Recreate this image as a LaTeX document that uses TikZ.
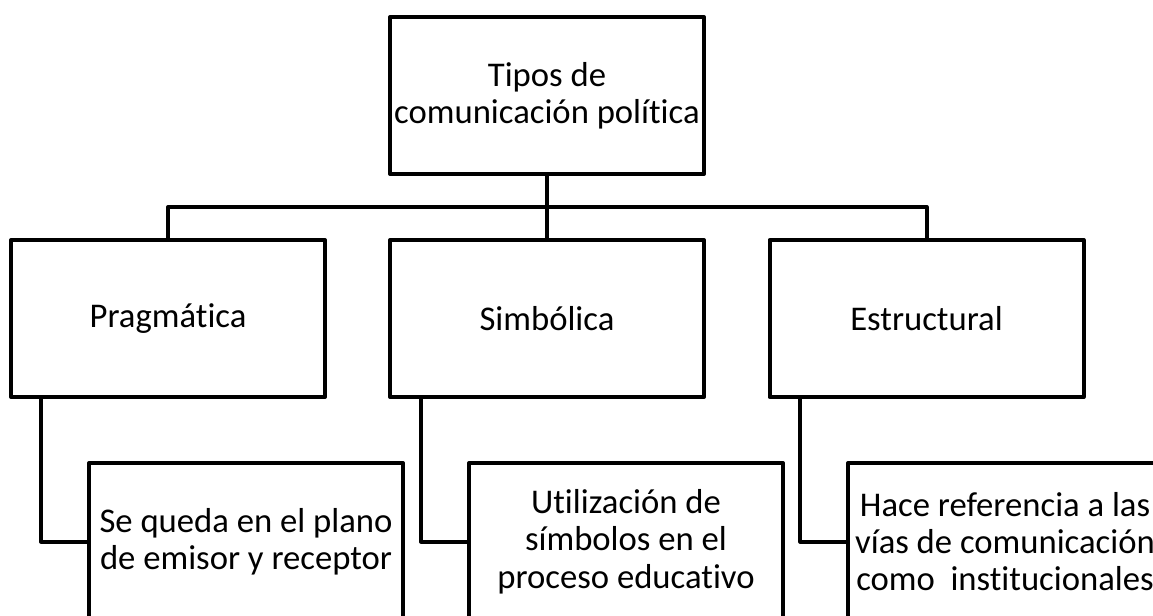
\documentclass[tikz,border=0pt]{standalone}
\usepackage{fontspec}
\setmainfont{Carlito}[Ligatures=NoCommon]
\usepackage{tikz}
\usetikzlibrary{positioning}
\tikzset{
  box/.style={draw=black,line width=3pt,line join=round,minimum width=235.5pt,minimum height=117.75pt,align=center,inner sep=0pt,font=\fontsize{26pt}{28pt}\selectfont},
  conn/.style={color=black,line width=3pt,line join=round}
}

\begin{document}
\begin{tikzpicture}[line cap=round,line join=round,x=0.75pt,y=-0.75pt]
        \useasboundingbox (0,0) rectangle (1153,615);
        \clip (0,0) rectangle (1153,615);
        \node[box] (tipos) at (547,95.5) {Tipos de\\comunicación política};
        \node[box] (prag) at (168,318.5) {Pragmática};
        \node[box] (simb) at (547,318.5) {Simbólica};
        \node[box] (estr) at (926.5,318.5) {Estructural};
        \node[box] (pragtxt) at (246,541.5) {Se queda en el plano\\de emisor y receptor};
        \node[box] (simbtxt) at (626,541.5) {Utilización de\\símbolos en el\\proceso educativo};
        \node[box] (estrtxt) at (1005,541.5) {Hace referencia a las\\vías de comunicación\\como~ institucionales};
        \coordinate (bar) at (547,207);
        \draw[conn] (tipos.south) -- (simb.north);
        \draw[conn] (prag.north) |- (bar) -| (estr.north);
        \draw[conn] ([xshift=24pt]prag.south west) |- (pragtxt.west);
        \draw[conn] ([xshift=24.5pt]simb.south west) |- (simbtxt.west);
        \draw[conn] ([xshift=24.5pt]estr.south west) |- (estrtxt.west);
      \end{tikzpicture}
\end{document}
